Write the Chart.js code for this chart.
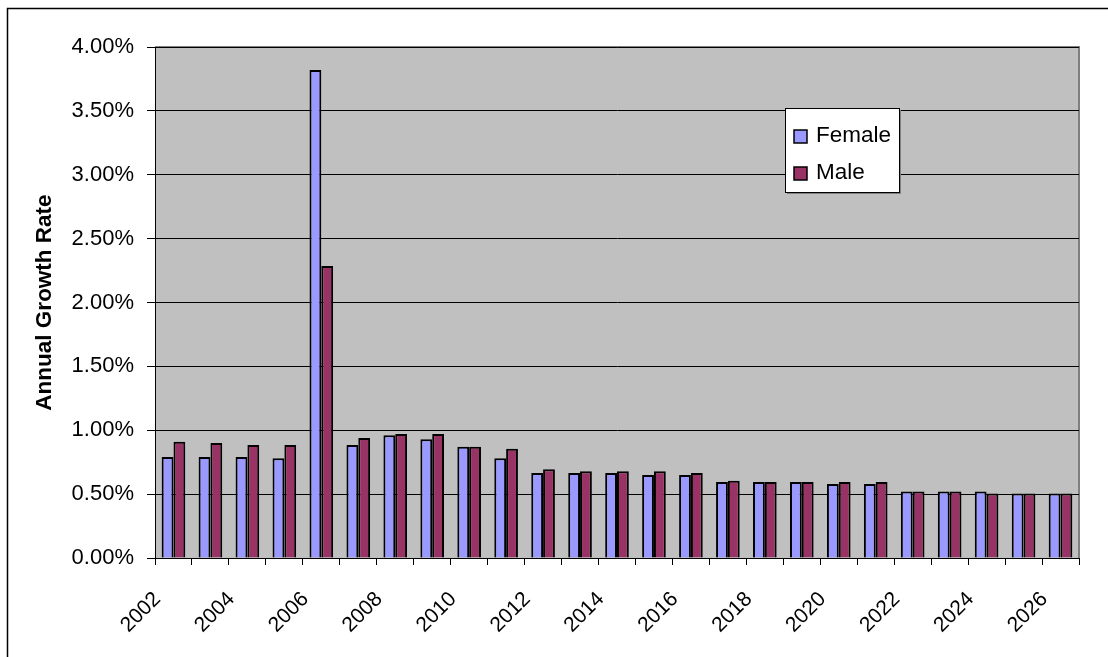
<!DOCTYPE html>
<html>
<head>
<meta charset="utf-8">
<script src="https://cdn.jsdelivr.net/npm/chart.js@4.4.1/dist/chart.umd.min.js"></script>
<style>
  html, body { margin: 0; padding: 0; background: #fff; }
  #wrap { position: relative; width: 1108px; height: 657px; }
</style>
</head>
<body>
<div id="wrap"><canvas id="grafico"></canvas></div>
<script>
// years on the category axis
const anos = ['2002','2003','2004','2005','2006','2007','2008','2009','2010','2011','2012','2013',
  '2014','2015','2016','2017','2018','2019','2020','2021','2022','2023','2024','2025','2026'];

// annual growth rate, in percent
const female = [0.79, 0.79, 0.79, 0.78, 3.82, 0.885, 0.96, 0.93, 0.87, 0.78, 0.665, 0.665,
  0.665, 0.65, 0.65, 0.595, 0.595, 0.595, 0.58, 0.58, 0.52, 0.52, 0.52, 0.505, 0.505];
const male = [0.91, 0.90, 0.885, 0.885, 2.285, 0.94, 0.97, 0.97, 0.87, 0.855, 0.695, 0.68,
  0.68, 0.68, 0.665, 0.605, 0.595, 0.595, 0.595, 0.595, 0.52, 0.52, 0.505, 0.505, 0.505];

// y ticks: 0.00% .. 4.00%
const yMin = 0, yMax = 4, yStep = 0.5;

const fonte = "'Liberation Sans', Arial, sans-serif";

// fundo cinza da área de plotagem, moldura externa e legenda
const moldura = {
  id: 'moldura',
  beforeDraw(chart) {
    const { ctx, chartArea: a } = chart;
    ctx.save();
    ctx.fillStyle = '#C0C0C0';
    ctx.fillRect(a.left, a.top, a.right - a.left, a.bottom - a.top);
    ctx.strokeStyle = '#808080';
    ctx.lineWidth = 2;
    ctx.beginPath();
    ctx.moveTo(a.left, a.top);
    ctx.lineTo(a.right, a.top);
    ctx.lineTo(a.right, a.bottom);
    ctx.stroke();
    // borda externa do gráfico
    ctx.strokeStyle = '#000';
    ctx.lineWidth = 1.5;
    ctx.strokeRect(7.5, 8.5, 1300, 900);
    ctx.restore();
  },
  afterDraw(chart) {
    const { ctx, chartArea: a } = chart;
    const x = a.left + 630, y = a.top + 61, w = 114, h = 84;
    ctx.save();
    // sombra
    ctx.fillStyle = '#808080';
    ctx.fillRect(x + 2, y + 2, w, h);
    ctx.fillStyle = '#fff';
    ctx.fillRect(x, y, w, h);
    ctx.strokeStyle = '#000';
    ctx.lineWidth = 1;
    ctx.strokeRect(x + 0.5, y + 0.5, w, h);
    ctx.font = '22.5px ' + fonte;
    ctx.textBaseline = 'middle';
    chart.data.datasets.forEach((ds, i) => {
      const cy = y + 28 + i * 37;
      ctx.fillStyle = ds.backgroundColor;
      ctx.fillRect(x + 9, cy - 6, 13, 13);
      ctx.strokeStyle = '#000';
      ctx.lineWidth = 1.5;
      ctx.strokeRect(x + 9, cy - 6, 13, 13);
      ctx.fillStyle = '#000';
      ctx.fillText(ds.label, x + 31, cy);
    });
    ctx.restore();
  }
};

const ctx = document.getElementById('grafico').getContext('2d');
new Chart(ctx, {
  type: 'bar',
  data: {
    labels: anos,
    datasets: [
      {
        label: 'Female',
        data: female,
        backgroundColor: '#9999FF',
        borderColor: '#000',
        borderWidth: 2,
        categoryPercentage: 0.64,
        barPercentage: 1
      },
      {
        label: 'Male',
        data: male,
        backgroundColor: '#993366',
        borderColor: '#000',
        borderWidth: 2,
        categoryPercentage: 0.64,
        barPercentage: 1
      }
    ]
  },
  options: {
    responsive: true,
    maintainAspectRatio: false,
    animation: false,
    layout: { padding: { left: 31, top: 47, right: 29, bottom: 0 } },
    plugins: {
      legend: { display: false },
      tooltip: { enabled: false }
    },
    scales: {
      x: {
        offset: true,
        afterFit(scale) { scale.height = 99; },
        grid: {
          offset: true,
          drawOnChartArea: false,
          drawTicks: true,
          tickLength: 7,
          color: '#000'
        },
        border: { color: '#000', width: 1 },
        ticks: {
          autoSkip: false,
          maxRotation: 45,
          minRotation: 45,
          padding: 22,
          labelOffset: -16,
          color: '#000',
          font: { family: fonte, size: 21 },
          callback: function(value, index) {
            return index % 2 === 0 ? anos[index] : '';
          }
        }
      },
      y: {
        min: yMin,
        max: yMax,
        afterFit(scale) { scale.width = 124; },
        grid: {
          color: '#000',
          lineWidth: 1,
          drawTicks: true,
          tickLength: 8
        },
        border: { color: '#000', width: 1 },
        ticks: {
          stepSize: yStep,
          padding: 13,
          color: '#000',
          font: { family: fonte, size: 22 },
          callback: function(value) {
            return value.toFixed(2) + '%';
          }
        },
        title: {
          display: true,
          text: 'Annual Growth Rate',
          color: '#000',
          padding: { top: 0, bottom: 0 },
          font: { family: fonte, size: 22.5, weight: 'bold' }
        }
      }
    }
  },
  plugins: [moldura]
});
</script>
</body>
</html>
